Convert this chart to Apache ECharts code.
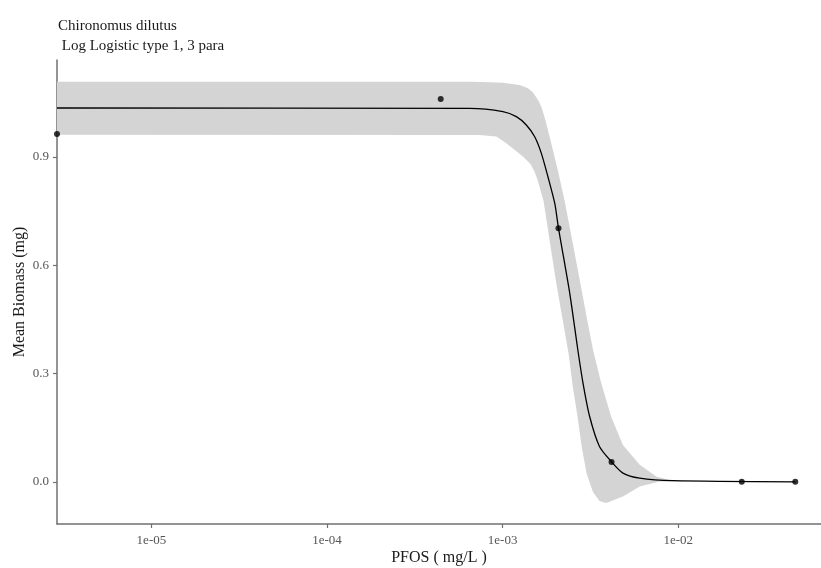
<!DOCTYPE html>
<html>
<head>
<meta charset="utf-8">
<script src="https://cdn.jsdelivr.net/npm/echarts@6/dist/echarts.min.js"></script>
<style>
html,body{margin:0;padding:0;background:#fff;}
#chart{width:821px;height:568px;}
</style>
</head>
<body>
<div id="chart"></div>
<script>
// Fitted curve
const curveX = [2.9e-6, 6.49e-4, 1.004e-3, 1.197e-3, 1.364e-3, 1.52e-3, 1.66e-3, 1.81e-3, 1.98e-3, 2.08e-3, 2.41e-3, 2.68e-3, 2.87e-3, 3.13e-3, 3.56e-3, 4.16e-3, 4.84e-3, 6.03e-3, 9.31e-3, 0.0466];
const curveY = [1.036, 1.035, 1.026, 1.012, 0.989, 0.957, 0.911, 0.846, 0.772, 0.703, 0.523, 0.366, 0.273, 0.181, 0.098, 0.056, 0.024, 0.010, 0.003, 0.0];

// Confidence band edges
const bandUpperX = [2.9e-6, 6.49e-4, 8.43e-4, 1.004e-3, 1.25e-3, 1.394e-3, 1.49e-3, 1.59e-3, 1.66e-3, 1.73e-3, 1.85e-3, 2.06e-3, 2.25e-3, 2.57e-3, 3.01e-3, 3.27e-3, 3.64e-3, 4.15e-3, 4.84e-3, 6.03e-3, 7.53e-3, 9.31e-3, 0.0116];
const bandUpperY = [1.109, 1.109, 1.107, 1.106, 1.100, 1.091, 1.079, 1.058, 1.040, 1.012, 0.957, 0.864, 0.781, 0.634, 0.457, 0.366, 0.274, 0.180, 0.102, 0.047, 0.014, 0.003, 0.001];
const bandLowerX = [2.9e-6, 7.40e-4, 9.21e-4, 1.05e-3, 1.31e-3, 1.44e-3, 1.52e-3, 1.58e-3, 1.71e-3, 1.85e-3, 2.02e-3, 2.25e-3, 2.38e-3, 2.50e-3, 2.67e-3, 2.82e-3, 3.01e-3, 3.27e-3, 3.56e-3, 3.89e-3, 4.84e-3, 6.03e-3, 7.83e-3, 0.0116];
const bandLowerY = [0.962, 0.961, 0.957, 0.938, 0.901, 0.881, 0.859, 0.837, 0.778, 0.670, 0.550, 0.421, 0.352, 0.269, 0.180, 0.097, 0.022, -0.028, -0.053, -0.059, -0.041, -0.013, 0.001, 0.001];

// Observed points
const pointX = [2.9e-6, 4.44e-4, 2.08e-3, 4.17e-3, 0.0230, 0.0464];
const pointY = [0.964, 1.061, 0.703, 0.055, 0.0, 0.0];

// Ticks
const xTickValues = [1e-5, 1e-4, 1e-3, 1e-2];
const xTickLabels = ['1e-05', '1e-04', '1e-03', '1e-02'];
const yTickValues = [0, 0.3, 0.6, 0.9];
const yTickLabels = ['0.0', '0.3', '0.6', '0.9'];

const titleText = 'Chironomus dilutus\n Log Logistic type 1, 3 para';
const xName = 'PFOS ( mg/L )';
const yName = 'Mean Biomass (mg)';

const SERIF = "'Liberation Serif', 'DejaVu Serif', serif";
const AXIS_COLOR = '#707070';
const LABEL_COLOR = '#555555';

const zip = (a, b) => a.map((v, i) => [v, b[i]]);

const chart = echarts.init(document.getElementById('chart'));
chart.setOption({
  animation: false,
  backgroundColor: '#ffffff',
  title: {
    text: titleText,
    left: 53,
    top: 11,
    textStyle: { fontFamily: SERIF, fontSize: 15, fontWeight: 'normal', color: '#1a1a1a', lineHeight: 20 }
  },
  grid: { left: 57, right: 0, top: 60, bottom: 44, containLabel: false, outerBoundsMode: 'none' },
  xAxis: {
    type: 'log',
    logBase: 10,
    min: 2.9e-6,
    max: 0.065,
    name: xName,
    nameLocation: 'middle',
    nameGap: 26,
    nameMoveOverlap: false,
    nameTextStyle: { fontFamily: SERIF, fontSize: 16, color: '#1a1a1a' },
    axisLine: { onZero: false, lineStyle: { color: AXIS_COLOR, width: 1.5 } },
    axisTick: { customValues: xTickValues, length: 4, lineStyle: { color: AXIS_COLOR, width: 1.2 } },
    axisLabel: {
      customValues: xTickValues,
      fontFamily: SERIF, fontSize: 13, color: LABEL_COLOR, margin: 10,
      formatter: (v) => {
        const i = xTickValues.findIndex(t => Math.abs(Math.log10(t) - Math.log10(v)) < 1e-6);
        return i >= 0 ? xTickLabels[i] : '';
      }
    },
    splitLine: { show: false }
  },
  yAxis: {
    type: 'value',
    min: -0.117,
    max: 1.169,
    name: yName,
    nameLocation: 'middle',
    nameGap: 29,
    nameMoveOverlap: false,
    nameRotate: 90,
    nameTextStyle: { fontFamily: SERIF, fontSize: 16, color: '#1a1a1a' },
    axisLine: { show: true, onZero: false, lineStyle: { color: AXIS_COLOR, width: 1.5 } },
    axisTick: { show: true, customValues: yTickValues, length: 4, lineStyle: { color: AXIS_COLOR, width: 1.2 } },
    axisLabel: {
      customValues: yTickValues,
      fontFamily: SERIF, fontSize: 13, color: LABEL_COLOR, margin: 8,
      formatter: (v) => {
        const i = yTickValues.findIndex(t => Math.abs(t - v) < 1e-9);
        return i >= 0 ? yTickLabels[i] : '';
      }
    },
    splitLine: { show: false }
  },
  series: [
    {
      type: 'custom',
      name: 'band',
      coordinateSystem: 'cartesian2d',
      data: [[bandUpperX[0], bandUpperY[0]]],
      z: 1,
      silent: true,
      renderItem: (params, api) => {
        if (params.dataIndex !== 0) return null;
        const pts = [];
        for (let i = 0; i < bandUpperX.length; i++) pts.push(api.coord([bandUpperX[i], bandUpperY[i]]));
        for (let i = bandLowerX.length - 1; i >= 0; i--) pts.push(api.coord([bandLowerX[i], bandLowerY[i]]));
        return { type: 'polygon', shape: { points: pts }, style: { fill: '#d4d4d4' } };
      }
    },
    {
      type: 'line',
      name: 'fit',
      data: zip(curveX, curveY),
      showSymbol: false,
      smooth: 0.25,
      lineStyle: { color: '#000000', width: 1.3 },
      z: 2
    },
    {
      type: 'scatter',
      name: 'obs',
      data: zip(pointX, pointY),
      symbolSize: 6,
      itemStyle: { color: '#000000' },
      clip: false,
      z: 3
    }
  ]
});
</script>
</body>
</html>
